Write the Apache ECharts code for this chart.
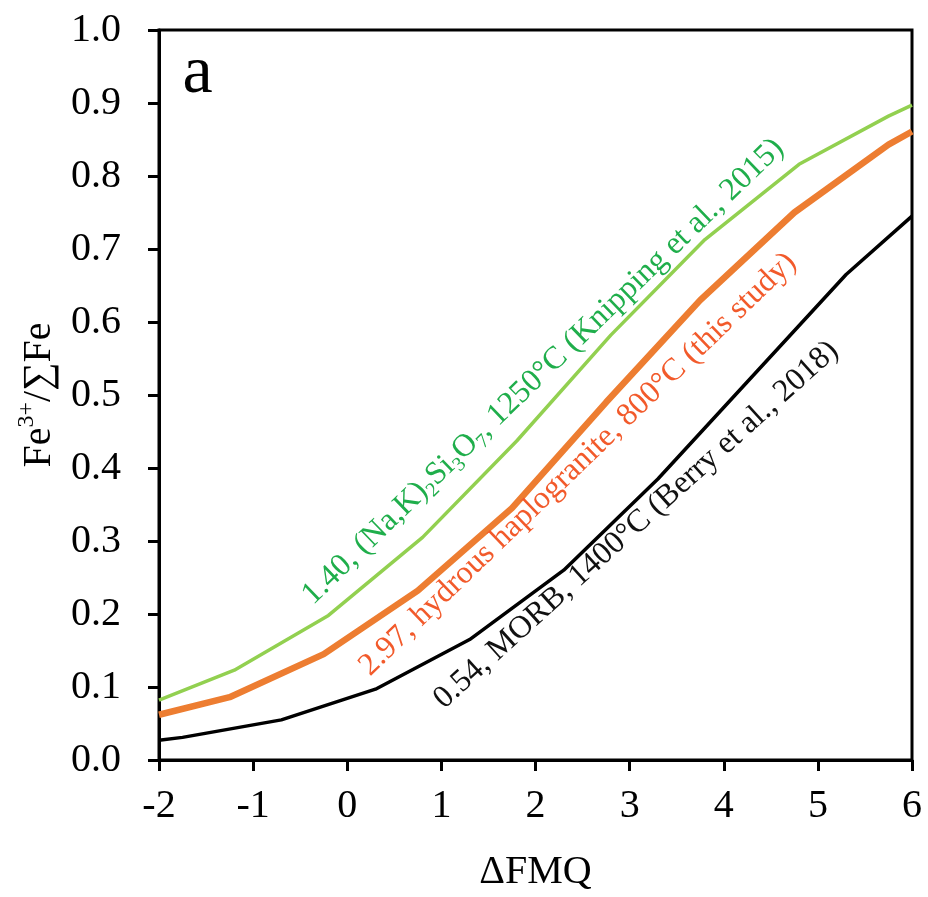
<!DOCTYPE html>
<html>
<head>
<meta charset="utf-8">
<script src="https://cdn.jsdelivr.net/npm/echarts@6/dist/echarts.min.js"></script>
<style>html,body{margin:0;padding:0;background:#fff}#c{width:928px;height:897px}</style>
</head>
<body>
<div id="c"></div>
<script>
// Data
const greenX = [-2, -1.2, -0.2, 0.8, 1.8, 2.8, 3.8, 4.8, 5.75, 6];
const greenY = [0.082, 0.123, 0.198, 0.305, 0.437, 0.582, 0.713, 0.816, 0.882, 0.897];
const orangeX = [-2, -1.25, -0.25, 0.75, 1.75, 2.75, 3.75, 4.75, 5.75, 6];
const orangeY = [0.062, 0.086, 0.145, 0.232, 0.345, 0.490, 0.630, 0.750, 0.843, 0.861];
const blackX = [-2, -1.75, -0.7, 0.3, 1.3, 2.3, 3.3, 4.3, 5.3, 6];
const blackY = [0.027, 0.031, 0.055, 0.097, 0.165, 0.260, 0.385, 0.525, 0.665, 0.745];
const xTicks = [-2, -1, 0, 1, 2, 3, 4, 5, 6];
const yTicks = [0, 0.1, 0.2, 0.3, 0.4, 0.5, 0.6, 0.7, 0.8, 0.9, 1.0];
// annotation anchors (data coords) and angles
const labels = [
  {x: 2.08, y: 0.532, angle: 44, color: '#1fae4b',
   text: '{a|1.40, (Na,K)}{s|2}{a|Si}{s|3}{a|O}{s|7}{a|, 1250°C (Knipping et al., 2015)}'},
  {x: 2.45, y: 0.405, angle: 44, color: '#f25a2b',
   text: '{a|2.97, hydrous haplogranite, 800°C (this study)}'},
  {x: 3.07, y: 0.322, angle: 42, color: '#111111',
   text: '{a|0.54, MORB, 1400°C (Berry et al., 2018)}'}
];
const panelLabel = {x: -1.59, y: 0.94, text: 'a'};

const font = '"Liberation Serif", "Times New Roman", serif';
const zip = (xs, ys) => xs.map((v, i) => [v, ys[i]]);

const chart = echarts.init(document.getElementById('c'));
const option = {
  animation: false,
  backgroundColor: '#fff',
  grid: {left: 159, right: 16, top: 30, bottom: 135, show: true, borderColor: '#000', borderWidth: 3, backgroundColor: 'transparent'},
  xAxis: {
    type: 'value', min: xTicks[0], max: xTicks[xTicks.length - 1], interval: 1,
    name: 'ΔFMQ', nameLocation: 'middle', nameGap: 92,
    nameTextStyle: {fontFamily: font, fontSize: 40, color: '#000'},
    axisLine: {onZero: false, lineStyle: {color: '#000', width: 3}},
    axisTick: {show: true, inside: false, length: 11, lineStyle: {color: '#000', width: 3}},
    axisLabel: {fontFamily: font, fontSize: 40, color: '#000', margin: 26},
    splitLine: {show: false}
  },
  yAxis: {
    type: 'value', min: yTicks[0], max: yTicks[yTicks.length - 1], interval: 0.1,
    name: '{m|Fe}{u|3+}{m|/∑Fe}', nameLocation: 'middle', nameGap: 100, nameRotate: 90,
    nameTextStyle: {fontFamily: font, fontSize: 40, color: '#000',
      rich: {m: {fontFamily: font, fontSize: 40, color: '#000', lineHeight: 44, verticalAlign: 'bottom'},
             u: {fontFamily: font, fontSize: 24, color: '#000', lineHeight: 24, verticalAlign: 'top'}}},
    axisLine: {onZero: false, lineStyle: {color: '#000', width: 3}},
    axisTick: {show: true, inside: false, length: 11, lineStyle: {color: '#000', width: 3}},
    axisLabel: {fontFamily: font, fontSize: 40, color: '#000', margin: 38, formatter: v => v.toFixed(1)},
    splitLine: {show: false}
  },
  series: [
    {type: 'line', data: zip(blackX, blackY), symbol: 'none', lineStyle: {color: '#000', width: 3.5}, z: 3},
    {type: 'line', data: zip(greenX, greenY), symbol: 'none', lineStyle: {color: '#92d050', width: 3.5}, z: 3},
    {type: 'line', data: zip(orangeX, orangeY), symbol: 'none', lineStyle: {color: '#ed7d31', width: 6.5}, z: 4}
  ]
};
chart.setOption(option);

function buildGraphics() {
  const g = [];
  labels.forEach(l => {
    const p = chart.convertToPixel({gridIndex: 0}, [l.x, l.y]);
    g.push({
      type: 'text', x: p[0], y: p[1], rotation: l.angle * Math.PI / 180, z: 10,
      style: {
        text: l.text, align: 'center', verticalAlign: 'middle',
        rich: {
          a: {fontFamily: font, fontSize: 32, fill: l.color, color: l.color, lineHeight: 38, verticalAlign: 'middle'},
          s: {fontFamily: font, fontSize: 20, fill: l.color, color: l.color, lineHeight: 20, verticalAlign: 'bottom'}
        }
      }
    });
  });
  const pa = chart.convertToPixel({gridIndex: 0}, [panelLabel.x, panelLabel.y]);
  g.push({type: 'text', x: pa[0], y: pa[1], z: 10,
    style: {text: panelLabel.text, fontFamily: font, fontSize: 68, fill: '#000', align: 'center', verticalAlign: 'middle'}});
  return g;
}
chart.setOption({graphic: buildGraphics()});
</script>
</body>
</html>
